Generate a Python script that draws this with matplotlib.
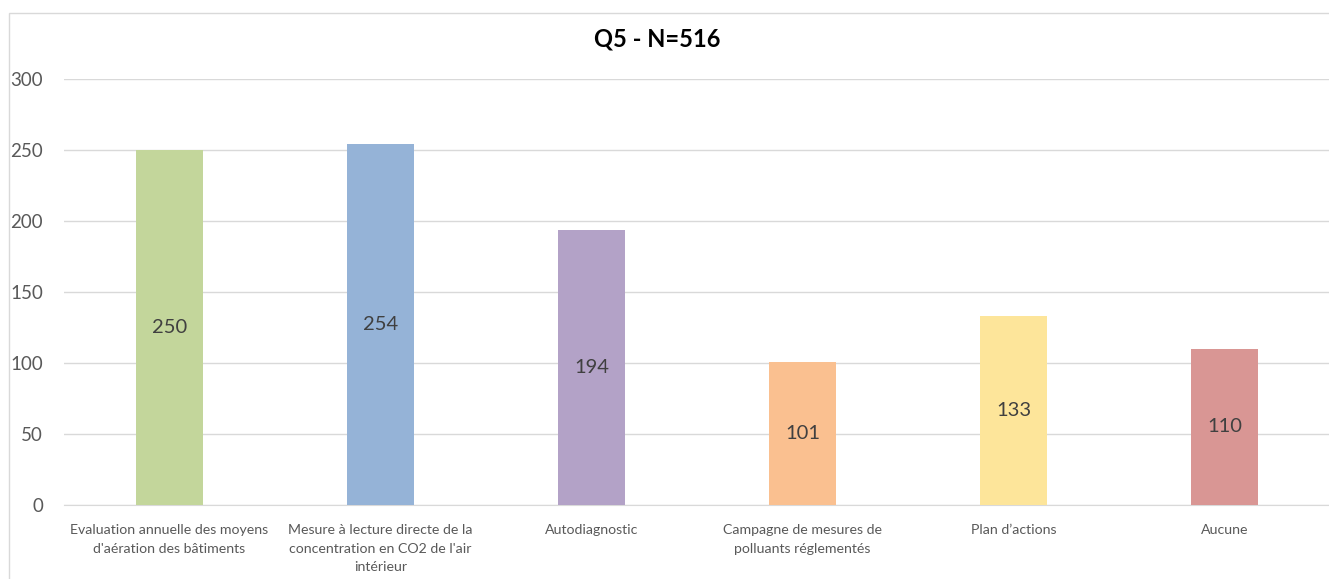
import matplotlib.pyplot as plt
from matplotlib.patches import Rectangle

plt.rcParams['font.family'] = ['Lato', 'DejaVu Sans']

categories = [
    "Evaluation annuelle des moyens\nd'aération des bâtiments",
    "Mesure à lecture directe de la\nconcentration en CO2 de l'air\nintérieur",
    "Autodiagnostic",
    "Campagne de mesures de\npolluants réglementés",
    "Plan d\u2019actions",
    "Aucune",
]
values = [250, 254, 194, 101, 133, 110]
colors = ['#c3d69b', '#95b3d7', '#b3a2c7', '#fac090', '#fde59a', '#d99694']
title = "Q5 - N=516"

W, H = 1329, 579
fig = plt.figure(figsize=(W / 100, H / 100), dpi=100)

# light frame around the chart (runs off the right and bottom edges)
fig.patches.append(Rectangle((9 / W, -0.1), 1.1, 1 - 13 / H + 0.1,
                             transform=fig.transFigure, fill=False,
                             edgecolor='#d9d9d9', linewidth=1))

ax = fig.add_axes([64 / W, (H - 505) / H, 1266 / W, 426 / H])
x = range(len(values))
bars = ax.bar(x, values, width=0.32, color=colors, zorder=3)

for b, v in zip(bars, values):
    ax.text(b.get_x() + b.get_width() / 2, v / 2, str(v), ha='center', va='center',
            fontsize=14.5, color='#404040', zorder=4)

ax.set_xlim(-0.5, 5.5)
ax.set_ylim(0, 300)
ax.set_yticks([0, 50, 100, 150, 200, 250, 300])
ax.set_xticks(list(x))
ax.set_xticklabels(categories, fontsize=10.2, color='#595959', linespacing=1.65, va='top')
ax.tick_params(axis='y', length=0, pad=15, labelsize=13.5, labelcolor='#595959')
ax.tick_params(axis='x', length=0, pad=14)
ax.grid(axis='y', color='#d9d9d9', linewidth=1, zorder=0)
for s in ['top', 'right', 'left']:
    ax.spines[s].set_visible(False)
ax.spines['bottom'].set_color('#d9d9d9')

fig.text(657 / W, 1 - 39 / H, title, ha='center', va='center',
         fontsize=17, fontweight='bold', color='#000000')

fig.savefig('out.png', dpi=100)
